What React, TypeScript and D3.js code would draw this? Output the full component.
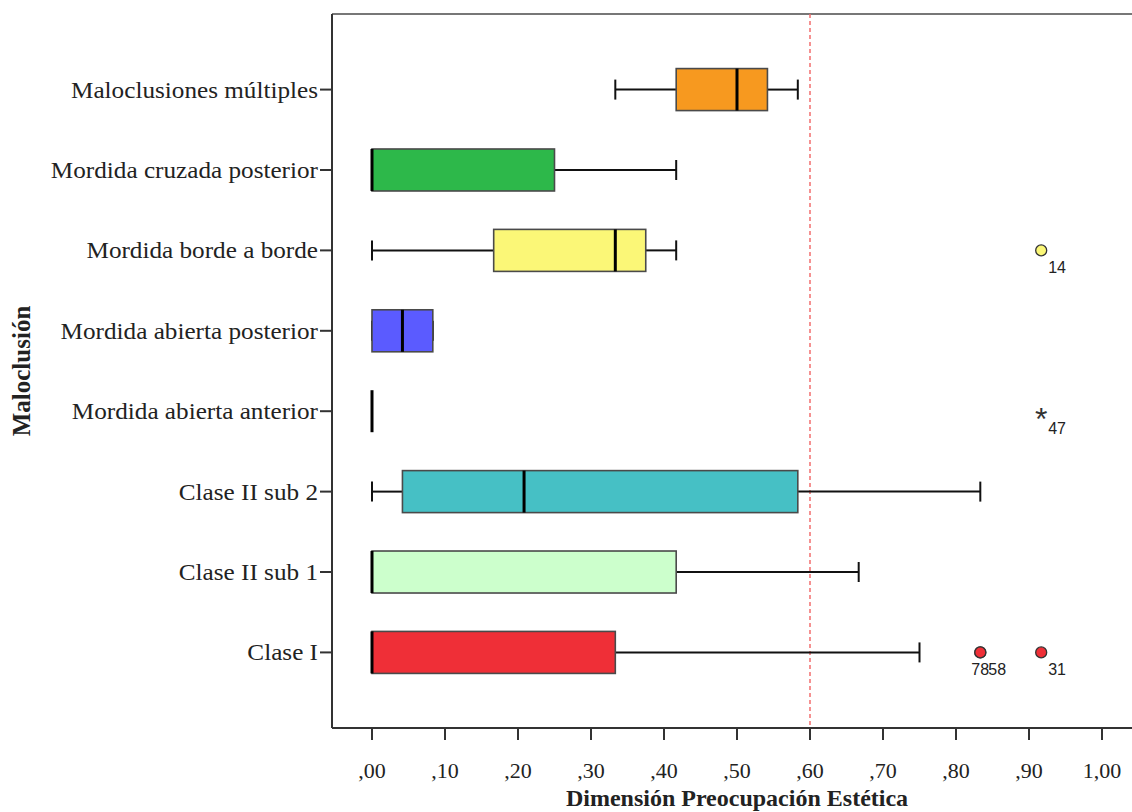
import React from "react";
import * as d3 from "d3";

const categories = [
  "Maloclusiones múltiples",
  "Mordida cruzada posterior",
  "Mordida borde a borde",
  "Mordida abierta posterior",
  "Mordida abierta anterior",
  "Clase II sub 2",
  "Clase II sub 1",
  "Clase I",
];
const whiskerLow = [0.3333, 0, 0, 0, 0, 0, 0, 0];
const q1 = [0.4167, 0, 0.1667, 0, 0, 0.0417, 0, 0];
const median = [0.5, 0, 0.3333, 0.0417, 0, 0.2083, 0, 0];
const q3 = [0.5417, 0.25, 0.375, 0.0833, 0, 0.5833, 0.4167, 0.3333];
const whiskerHigh = [0.5833, 0.4167, 0.4167, 0.0833, 0, 0.8333, 0.6667, 0.75];
const boxColors = ["#f7991f", "#2db84a", "#fbf777", "#5b5bff", "#cccccc", "#46c0c5", "#ccffcc", "#ef2f37"];

const outlierCategory = ["Mordida borde a borde", "Mordida abierta anterior", "Clase I", "Clase I", "Clase I"];
const outlierValue = [0.9167, 0.9167, 0.8333, 0.8333, 0.9167];
const outlierLabel = ["14", "47", "78", "58", "31"];
const outlierShape = ["circle", "star", "circle", "circle", "circle"];
const outlierLabelShift = [0, 0, -16, 1, 0];

const xTicks = [0, 0.1, 0.2, 0.3, 0.4, 0.5, 0.6, 0.7, 0.8, 0.9, 1.0];
const referenceValue = 0.6;

const W = 1132;
const H = 812;
const frameLeft = 332;
const frameTop = 14;
const frameBottom = 728;
const frameRight = 1132;

const serif = "'Liberation Serif', 'Times New Roman', serif";
const sans = "'Liberation Sans', Arial, sans-serif";

function fmt(v: number) {
  const s = v.toFixed(2).replace(".", ",");
  return s.startsWith("0") ? s.slice(1) : s;
}

export default function App() {
  const x = d3.scaleLinear().domain([0, 1]).range([372, 1102]);
  const y = d3.scalePoint<string>().domain(categories).range([frameTop, frameBottom]).padding(0.94);
  const boxH = 42;
  const capH = 20;

  return (
    <svg width={W} height={H} style={{ position: "absolute", left: 0, top: 0, background: "#fff" }}>
      <rect x={0} y={0} width={W} height={H} fill="#fff" />
      {/* frame */}
      <line x1={frameLeft} x2={frameRight} y1={frameTop} y2={frameTop} stroke="#777" strokeWidth={2} />
      <line x1={frameLeft} x2={frameLeft} y1={frameTop} y2={frameBottom} stroke="#333" strokeWidth={2} />
      <line x1={frameLeft} x2={frameRight} y1={frameBottom} y2={frameBottom} stroke="#333" strokeWidth={2} />

      {/* reference line */}
      <line
        x1={x(referenceValue)}
        x2={x(referenceValue)}
        y1={frameTop}
        y2={frameBottom}
        stroke="#f26d6d"
        strokeWidth={1.5}
        strokeDasharray="4,3"
      />

      {/* x ticks */}
      {xTicks.map((t) => (
        <g key={t}>
          <line x1={x(t)} x2={x(t)} y1={frameBottom} y2={frameBottom + 12} stroke="#333" strokeWidth={2} />
          <text x={x(t)} y={778} textAnchor="middle" fontFamily={serif} fontSize={22} fill="#222">
            {fmt(t)}
          </text>
        </g>
      ))}

      {/* y ticks and labels */}
      {categories.map((c) => (
        <g key={c}>
          <line x1={320} x2={frameLeft} y1={y(c)!} y2={y(c)!} stroke="#333" strokeWidth={2} />
          <text
            transform={`translate(318, ${y(c)! + 8}) scale(1.05, 1)`}
            textAnchor="end"
            fontFamily={serif}
            fontSize={24}
            fill="#222"
          >
            {c}
          </text>
        </g>
      ))}

      {/* boxes */}
      {categories.map((c, i) => {
        const cy = y(c)!;
        return (
          <g key={"b" + c}>
            <line x1={x(whiskerLow[i])} x2={x(q1[i])} y1={cy} y2={cy} stroke="#111" strokeWidth={2} />
            <line x1={x(q3[i])} x2={x(whiskerHigh[i])} y1={cy} y2={cy} stroke="#111" strokeWidth={2} />
            <line x1={x(whiskerLow[i])} x2={x(whiskerLow[i])} y1={cy - capH / 2} y2={cy + capH / 2} stroke="#111" strokeWidth={2} />
            <line x1={x(whiskerHigh[i])} x2={x(whiskerHigh[i])} y1={cy - capH / 2} y2={cy + capH / 2} stroke="#111" strokeWidth={2} />
            <rect
              x={x(q1[i])}
              y={cy - boxH / 2}
              width={x(q3[i]) - x(q1[i])}
              height={boxH}
              fill={boxColors[i]}
              stroke="#4a4a4a"
              strokeWidth={1.6}
            />
            <line x1={x(median[i])} x2={x(median[i])} y1={cy - boxH / 2} y2={cy + boxH / 2} stroke="#000" strokeWidth={3} />
          </g>
        );
      })}

      {/* outliers */}
      {outlierValue.map((v, i) => {
        const cx = x(v);
        const cy = y(outlierCategory[i])!;
        const ci = categories.indexOf(outlierCategory[i]);
        return (
          <g key={"o" + i}>
            {outlierShape[i] === "circle" ? (
              <circle cx={cx} cy={cy} r={5.5} fill={boxColors[ci]} stroke="#333" strokeWidth={1.3} />
            ) : (
              <text x={cx} y={cy + 19} textAnchor="middle" fontFamily={sans} fontSize={32} fill="#333">
                *
              </text>
            )}
            <text x={cx + 7 + outlierLabelShift[i]} y={cy + 23} fontFamily={sans} fontSize={16} fill="#222">
              {outlierLabel[i]}
            </text>
          </g>
        );
      })}

      {/* axis titles */}
      <text x={737} y={806} textAnchor="middle" fontFamily={serif} fontWeight="bold" fontSize={24} fill="#222">
        Dimensión Preocupación Estética
      </text>
      <text
        transform={`translate(30, ${(frameTop + frameBottom) / 2}) rotate(-90)`}
        textAnchor="middle"
        fontFamily={serif}
        fontWeight="bold"
        fontSize={25}
        fill="#222"
      >
        Maloclusión
      </text>
    </svg>
  );
}
